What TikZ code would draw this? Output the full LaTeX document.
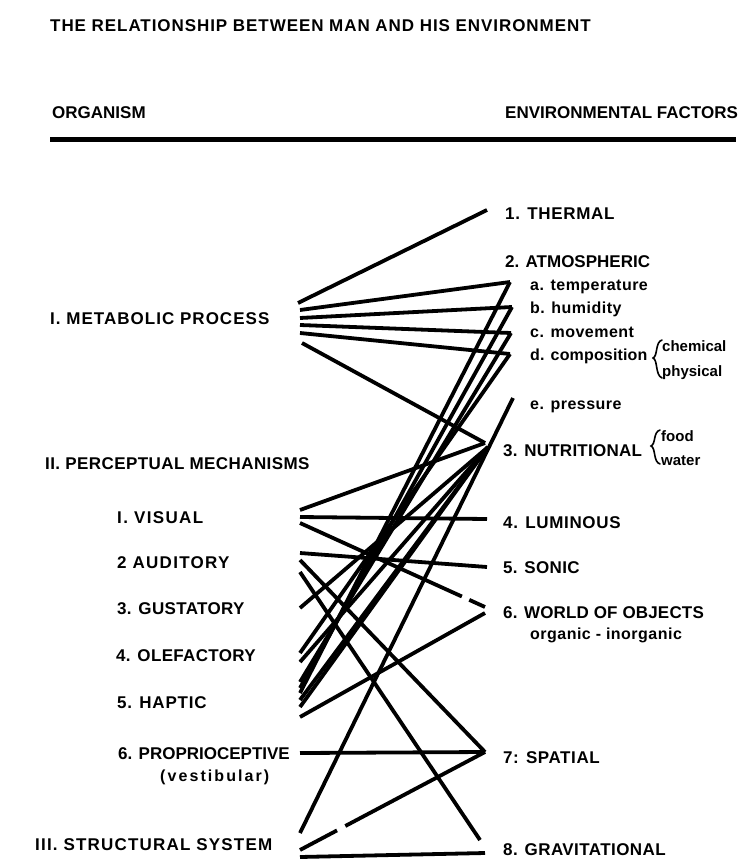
\documentclass[tikz,border=0pt]{standalone}
\usepackage{fontspec}
\setmainfont{Liberation Sans}
\usetikzlibrary{calc}
\begin{document}
\begin{tikzpicture}[x=1pt,y=-1pt,
  lab/.style={font=\fontsize{17}{20}\selectfont\bfseries\addfontfeature{LetterSpace=#1}, anchor=base west, inner sep=0pt},
  lab/.default=0,
  sub/.style={font=\fontsize{16}{18}\selectfont\bfseries\addfontfeature{LetterSpace=#1}, anchor=base west, inner sep=0pt},
  sub/.default=3,
  small/.style={font=\fontsize{15}{17}\selectfont\bfseries, anchor=base west, inner sep=0pt},
  link/.style={line width=3.8pt},
  bracestyle/.style={line width=1.6pt, line cap=round}]
\useasboundingbox (0,0) rectangle (738,861);
\fill[white] (0,0) rectangle (738,861);

% headings
\node[lab=5.5] (title) at (50,32) {THE RELATIONSHIP BETWEEN MAN AND HIS ENVIRONMENT};
\node[lab] (org) at (52,119) {ORGANISM};
\node[lab] (env) at (505,119) {ENVIRONMENTAL FACTORS};
\coordinate (rule1) at (50,140);
\coordinate (rule2) at (736,140);
\draw[line width=5pt] (rule1) -- (rule2);

% left labels
\node[lab=6] (met) at (50,324) {I. METABOLIC PROCESS};
\node[lab=2.5] (per) at (45,469) {II. PERCEPTUAL MECHANISMS};
\node[lab=8] (vis) at (117,523) {I. VISUAL};
\node[lab=7.5] (aud) at (117,568) {2 AUDITORY};
\node[lab=2] (gus) at (117,614) {3. GUSTATORY};
\node[lab=2] (ole) at (116,661) {4. OLEFACTORY};
\node[lab=4.5] (hap) at (117,708) {5. HAPTIC};
\node[lab] (pro) at (118,759) {6. PROPRIOCEPTIVE};
\node[sub=13] (ves) at (160,781) {(vestibular)};
\node[lab=7] (str) at (35,850) {III. STRUCTURAL SYSTEM};

% right labels
\node[lab=4] (the) at (505,219) {1. THERMAL};
\node[lab] (atm) at (505,267) {2. ATMOSPHERIC};
\node[sub] (tem) at (530,290) {a. temperature};
\node[sub] (hum) at (530,313) {b. humidity};
\node[sub] (mov) at (530,337) {c. movement};
\node[sub=1] (com) at (530,360) {d. composition};
\node[small] (che) at (662,351) {chemical};
\node[small] (phy) at (662,376) {physical};
\node[sub] (pre) at (530,409) {e. pressure};
\node[lab=1.5] (nut) at (503,456) {3. NUTRITIONAL};
\node[small] (foo) at (661,441) {food};
\node[small] (wat) at (661,465) {water};
\node[lab=4] (lum) at (503,528) {4. LUMINOUS};
\node[lab=2] (son) at (503,573) {5. SONIC};
\node[lab=1] (wob) at (503,618) {6. WORLD OF OBJECTS};
\node[sub] (org2) at (530,639) {organic - inorganic};
\node[lab=3.5] (spa) at (503,763) {7: SPATIAL};
\node[lab=2.5] (gra) at (503,855) {8. GRAVITATIONAL};

% braces
\coordinate (b1t) at (662,340); \coordinate (b1m) at (653,358); \coordinate (b1b) at (662,378);
\draw[bracestyle] (b1t) .. controls (655,342) and (658,356) .. (b1m) .. controls (658,360) and (655,375) .. (b1b);
\coordinate (b2t) at (660,430); \coordinate (b2m) at (651,446); \coordinate (b2b) at (660,464);
\draw[bracestyle] (b2t) .. controls (653,432) and (656,444) .. (b2m) .. controls (656,448) and (653,462) .. (b2b);

% left connector ends
\coordinate (M1) at (298,303);
\coordinate (M2) at (300,310);
\coordinate (M3) at (300,318);
\coordinate (M4) at (300,325);
\coordinate (M5) at (300,333);
\coordinate (M6) at (302,343);
\coordinate (V1) at (300,510);
\coordinate (V2) at (300,517);
\coordinate (V3) at (300,523);
\coordinate (A1) at (300,553);
\coordinate (A2) at (300,560);
\coordinate (A3) at (300,572);
\coordinate (G1) at (300,608);
\coordinate (O1) at (300,653);
\coordinate (O2) at (300,662);
\coordinate (H1) at (300,682);
\coordinate (H2) at (300,688);
\coordinate (H3) at (300,693);
\coordinate (H4) at (300,700);
\coordinate (H5) at (300,707);
\coordinate (H6) at (300,717);
\coordinate (P1) at (300,753);
\coordinate (S1) at (300,833);
\coordinate (S2) at (300,850);
\coordinate (S3) at (300,857);

% right connector ends
\coordinate (Rthe) at (487,210);
\coordinate (Rtem) at (510,282);
\coordinate (Rhum) at (512,307);
\coordinate (Rmov) at (511,333);
\coordinate (Rcom) at (510,354);
\coordinate (Rpre) at (513,398);
\coordinate (Rnut) at (485,443);
\coordinate (Rnut2) at (488,447);
\coordinate (Rlum) at (487,519);
\coordinate (Rson) at (487,567);
\coordinate (Rwob) at (485,607);
\coordinate (Rwob2) at (485,613);
\coordinate (Rspa) at (485,752);
\coordinate (Rgra) at (480,840);
\coordinate (Rgra2) at (485,853);

% connectors
\draw[link] (M1) -- (Rthe);
\draw[link] (M2) -- (Rtem);
\draw[link] (M3) -- (Rhum);
\draw[link] (M4) -- (Rmov);
\draw[link] (M5) -- (Rcom);
\draw[link] (M6) -- (Rnut);
\draw[link] (V1) -- (Rnut);
\draw[link] (V2) -- (Rlum);
\draw[link] (V3) -- ($(V3)!0.875!(Rwob)$) ($(V3)!0.915!(Rwob)$) -- (Rwob);
\draw[link] (A1) -- (Rson);
\draw[link] (A2) -- (Rspa);
\draw[link] (A3) -- (Rgra);
\draw[link] (G1) -- (Rnut2);
\draw[link] (O1) -- (Rcom);
\draw[link] (O2) -- (Rnut2);
\draw[link] (H1) -- (Rmov);
\draw[link] (H2) -- (Rhum);
\draw[link] (H3) -- (Rtem);
\draw[link] (H4) -- (Rnut2);
\draw[link] (H5) -- (Rnut2);
\draw[link] (H6) -- (Rwob2);
\draw[link] (P1) -- (Rspa);
\draw[link] (S1) -- (Rpre);
\draw[link] (S2) -- ($(S2)!0.2!(Rspa)$) ($(S2)!0.245!(Rspa)$) -- (Rspa);
\draw[link] (S3) -- (Rgra2);
\end{tikzpicture}
\end{document}
